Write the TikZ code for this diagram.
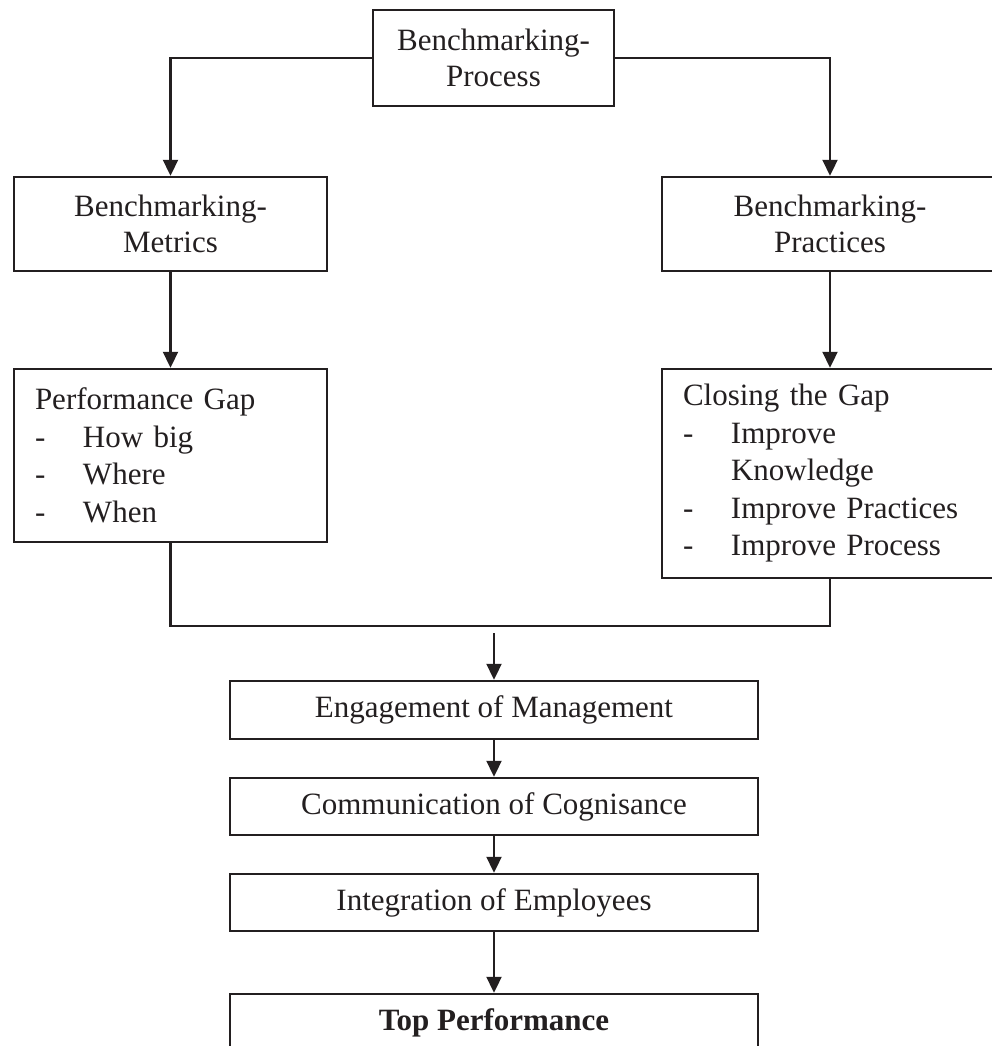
\documentclass[tikz,border=0pt]{standalone}
\usepackage{fontspec}
\setmainfont{Liberation Serif}
\usetikzlibrary{arrows.meta}
\definecolor{ink}{HTML}{231F20}
\tikzset{
  box/.style={draw=ink, line width=2.5pt, inner sep=0pt, text=ink,
    font=\fontsize{31}{36}\selectfont, align=center},
  listbox/.style={box, align=left, inner xsep=21pt, inner ysep=0pt,
    font=\fontsize{31}{37.5}\selectfont},
  conn/.style={draw=ink, line width=2.3pt},
  arr/.style={conn, -{Triangle[length=16pt,width=15pt]}},
}
\newcommand{\itm}[1]{\makebox[48pt][l]{-}#1}
\begin{document}
\begin{tikzpicture}[x=1pt,y=-1pt]
\useasboundingbox (0,0) rectangle (992,1046);
\clip (0,0) rectangle (992,1046);
\fill[white] (0,0) rectangle (992,1046);

\node[box, minimum width=241pt, minimum height=96pt] (proc) at (493.5,58) {Benchmarking-\\Process};
\node[box, minimum width=313pt, minimum height=94pt] (metr) at (170.5,224) {Benchmarking-\\Metrics};
\node[box, minimum width=336pt, minimum height=94pt] (prac) at (830,224) {Benchmarking-\\Practices};

\node[listbox, text width=271pt, minimum height=173pt] (gap) at (170.5,455.5)
  {Performance Gap\\\itm{How big}\\\itm{Where}\\\itm{When}};
\node[listbox, text width=294pt, minimum height=209pt] (close) at (830,473.5)
  {Closing the Gap\\\itm{Improve}\\\hspace*{48pt}Knowledge\\\itm{Improve Practices}\\\itm{Improve Process}};

\node[box, minimum width=528pt, minimum height=58pt] (eng) at (494,710) {Engagement of Management};
\node[box, minimum width=528pt, minimum height=57pt] (comm) at (494,806.5) {Communication of Cognisance};
\node[box, minimum width=528pt, minimum height=57pt] (integ) at (494,902.5) {Integration of Employees};
\node[box, minimum width=528pt, minimum height=58pt] (top) at (494,1023) {\bfseries Top Performance};

\coordinate (m) at (494,626);
\coordinate (s) at (494,633);

\draw[arr] (proc.west) -| (metr.north);
\draw[arr] (proc.east) -| (prac.north);
\draw[arr] (metr.south) -- (gap.north);
\draw[arr] (prac.south) -- (close.north);
\draw[conn] (gap.south) |- (m) -| (close.south);
\draw[arr] (s) -- (eng.north);
\draw[arr] (eng.south) -- (comm.north);
\draw[arr] (comm.south) -- (integ.north);
\draw[arr] (integ.south) -- (top.north);
\end{tikzpicture}
\end{document}
